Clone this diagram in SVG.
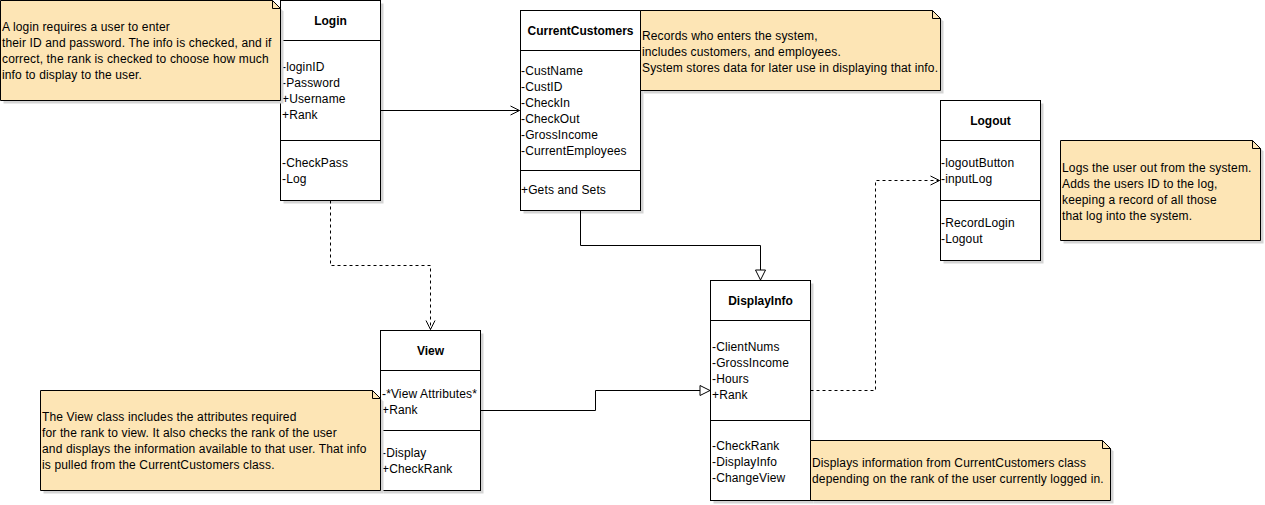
<svg xmlns="http://www.w3.org/2000/svg" width="1265" height="505" viewBox="0 0 1265 505">
  <style>
    text { font-family: "Liberation Sans", Arial, sans-serif; font-size: 12px; fill: #000; letter-spacing: 0.14px; }
    .title { font-weight: bold; text-anchor: middle; letter-spacing: 0; }
    .box { fill: #fff; stroke: #000; stroke-width: 1; }
    .div { stroke: #000; stroke-width: 1; fill: none; }
    .shadow { fill: #d4d4d4; stroke: none; }
    .note { fill: #fde5b5; stroke: #000; stroke-width: 1; }
    .fold { fill: none; stroke: #000; stroke-width: 1; }
    .edge { fill: none; stroke: #000; stroke-width: 1; }
    .dashed { stroke-dasharray: 3 3; }
  </style>
  <defs>
    <marker id="open" markerUnits="userSpaceOnUse" markerWidth="12" markerHeight="12" viewBox="-10 -6 12 12" refX="0" refY="0" orient="auto" overflow="visible">
      <path d="M-9,-4.5 L0,0 L-9,4.5" fill="none" stroke="#000" stroke-width="1"/>
    </marker>
    <marker id="hollow" markerUnits="userSpaceOnUse" markerWidth="14" markerHeight="14" viewBox="-12 -7 14 14" refX="0" refY="0" orient="auto" overflow="visible">
      <path d="M-10,-5 L0,0 L-10,5 Z" fill="#fff" stroke="#000" stroke-width="1"/>
    </marker>
  </defs>

  <!-- Login -->
  <g id="login">
    <rect class="shadow" x="283.5" y="3.5" width="100" height="200"/>
    <rect class="box" x="280.5" y="0.5" width="100" height="200"/>
    <path class="div" d="M280.5,40.5 H380.5 M280.5,140.5 H380.5"/>
    <text class="title" x="330.5" y="25">Login</text>
    <text x="282" y="71">-loginID</text>
    <text x="282" y="87">-Password</text>
    <text x="282" y="103">+Username</text>
    <text x="282" y="119">+Rank</text>
    <text x="282" y="167">-CheckPass</text>
    <text x="282" y="183">-Log</text>
  </g>

  <!-- Login note -->
  <g id="note-login">
    <path class="shadow" d="M3.5,3.5 H275.5 L283.5,11.5 V103.5 H3.5 Z"/>
    <path class="note" d="M0.5,0.5 H272.5 L280.5,8.5 V100.5 H0.5 Z"/>
    <path class="fold" d="M272.5,0.5 V8.5 H280.5"/>
    <text x="2" y="31">A login requires a user to enter</text>
    <text x="2" y="47">their ID and password. The info is checked, and if</text>
    <text x="2" y="63">correct, the rank is checked to choose how much</text>
    <text x="2" y="79">info to display to the user.</text>
  </g>

  <!-- CurrentCustomers -->
  <g id="current-customers">
    <rect class="shadow" x="523.5" y="13.5" width="120" height="200"/>
    <rect class="box" x="520.5" y="10.5" width="120" height="200"/>
    <path class="div" d="M520.5,50.5 H640.5 M520.5,170.5 H640.5"/>
    <text class="title" x="580.5" y="35">CurrentCustomers</text>
    <text x="521" y="75">-CustName</text>
    <text x="521" y="91">-CustID</text>
    <text x="521" y="107">-CheckIn</text>
    <text x="521" y="123">-CheckOut</text>
    <text x="521" y="139">-GrossIncome</text>
    <text x="521" y="155">-CurrentEmployees</text>
    <text x="521" y="194">+Gets and Sets</text>
  </g>

  <!-- CurrentCustomers note -->
  <g id="note-current-customers">
    <path class="shadow" d="M643.5,13.5 H935.5 L943.5,21.5 V93.5 H643.5 Z"/>
    <path class="note" d="M640.5,10.5 H932.5 L940.5,18.5 V90.5 H640.5 Z"/>
    <path class="fold" d="M932.5,10.5 V18.5 H940.5"/>
    <text x="642" y="39.5">Records who enters the system,</text>
    <text x="642" y="55.5">includes customers, and employees.</text>
    <text x="642" y="71.5">System stores data for later use in displaying that info.</text>
  </g>

  <!-- Logout -->
  <g id="logout">
    <rect class="shadow" x="943.5" y="103.5" width="100" height="160"/>
    <rect class="box" x="940.5" y="100.5" width="100" height="160"/>
    <path class="div" d="M940.5,140.5 H1040.5 M940.5,200.5 H1040.5"/>
    <text class="title" x="990.5" y="125">Logout</text>
    <text x="941" y="167">-logoutButton</text>
    <text x="941" y="183">-inputLog</text>
    <text x="941" y="227">-RecordLogin</text>
    <text x="941" y="243">-Logout</text>
  </g>

  <!-- Logout note -->
  <g id="note-logout">
    <path class="shadow" d="M1063.5,143.5 H1255.5 L1263.5,151.5 V243.5 H1063.5 Z"/>
    <path class="note" d="M1060.5,140.5 H1252.5 L1260.5,148.5 V240.5 H1060.5 Z"/>
    <path class="fold" d="M1252.5,140.5 V148.5 H1260.5"/>
    <text x="1062" y="172">Logs the user out from the system.</text>
    <text x="1062" y="188">Adds the users ID to the log,</text>
    <text x="1062" y="204">keeping a record of all those</text>
    <text x="1062" y="220">that log into the system.</text>
  </g>

  <!-- View -->
  <g id="view">
    <rect class="shadow" x="383.5" y="333.5" width="100" height="160"/>
    <rect class="box" x="380.5" y="330.5" width="100" height="160"/>
    <path class="div" d="M380.5,370.5 H480.5 M380.5,430.5 H480.5"/>
    <text class="title" x="430.5" y="355">View</text>
    <text x="382" y="397.5">-*View Attributes*</text>
    <text x="382" y="413.5">+Rank</text>
    <text x="382" y="457">-Display</text>
    <text x="382" y="473">+CheckRank</text>
  </g>

  <!-- View note -->
  <g id="note-view">
    <path class="shadow" d="M43.5,393.5 H375.5 L383.5,401.5 V493.5 H43.5 Z"/>
    <path class="note" d="M40.5,390.5 H372.5 L380.5,398.5 V490.5 H40.5 Z"/>
    <path class="fold" d="M372.5,390.5 V398.5 H380.5"/>
    <text x="42" y="420.5">The View class includes the attributes required</text>
    <text x="42" y="436.5">for the rank to view. It also checks the rank of the user</text>
    <text x="42" y="452.5">and displays the information available to that user. That info</text>
    <text x="42" y="468.5">is pulled from the CurrentCustomers class.</text>
  </g>

  <!-- DisplayInfo -->
  <g id="display-info">
    <rect class="shadow" x="713.5" y="283.5" width="100" height="220"/>
    <rect class="box" x="710.5" y="280.5" width="100" height="220"/>
    <path class="div" d="M710.5,320.5 H810.5 M710.5,420.5 H810.5"/>
    <text class="title" x="760.5" y="305">DisplayInfo</text>
    <text x="712" y="351">-ClientNums</text>
    <text x="712" y="367">-GrossIncome</text>
    <text x="712" y="383">-Hours</text>
    <text x="712" y="399">+Rank</text>
    <text x="712" y="449.5">-CheckRank</text>
    <text x="712" y="465.5">-DisplayInfo</text>
    <text x="712" y="481.5">-ChangeView</text>
  </g>

  <!-- DisplayInfo note -->
  <g id="note-display-info">
    <path class="shadow" d="M813.5,443.5 H1105.5 L1113.5,451.5 V503.5 H813.5 Z"/>
    <path class="note" d="M810.5,440.5 H1102.5 L1110.5,448.5 V500.5 H810.5 Z"/>
    <path class="fold" d="M1102.5,440.5 V448.5 H1110.5"/>
    <text x="812" y="467">Displays information from CurrentCustomers class</text>
    <text x="812" y="483">depending on the rank of the user currently logged in.</text>
  </g>

  <!-- connectors, drawn over the box shadows -->
  <g id="connectors">
    <path class="edge" d="M380.5,110.5 H519.5" marker-end="url(#open)"/>
    <path class="edge dashed" d="M330.5,200.5 V265.5 H430.5 V329.5" marker-end="url(#open)"/>
    <path class="edge" d="M580.5,210.5 V245.5 H760.5 V280" marker-end="url(#hollow)"/>
    <path class="edge" d="M480.5,410.5 H595.5 V390.5 H710" marker-end="url(#hollow)"/>
    <path class="edge dashed" d="M810.5,390.5 H875.5 V180.5 H939.5" marker-end="url(#open)"/>
  </g>
</svg>
